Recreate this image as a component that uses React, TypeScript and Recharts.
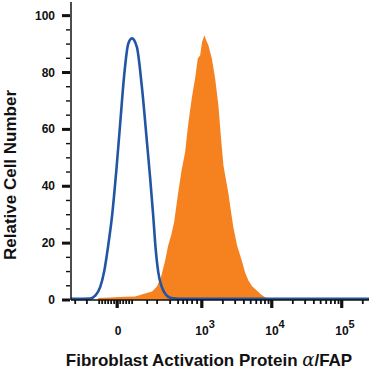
import React from "react";
import { Area, ComposedChart, Label, Line, XAxis, YAxis } from "recharts";

// x is in "decade" units of the biexponential display: 3 = 10^3, 4 = 10^4 ...
const isotypeX = [1.13, 1.404, 1.476, 1.547, 1.604, 1.661, 1.719, 1.776, 1.833, 1.89, 1.947, 2.0, 2.071, 2.143, 2.214, 2.261, 2.304, 2.34, 2.376, 2.429, 2.49, 2.547, 2.69, 5.39];
const isotypeY = [0.4, 0.5, 1.5, 4.5, 10, 19, 30, 45, 62, 79, 90, 92, 89, 75, 56, 43, 30, 18, 10, 4.5, 1.8, 0.8, 0.4, 0.4];

const fapX = [1.519, 1.69, 1.904, 2.047, 2.19, 2.29, 2.361, 2.419, 2.476, 2.519, 2.561, 2.604, 2.661, 2.711, 2.761, 2.809, 2.857, 2.904, 2.943, 2.976, 3.004, 3.037, 3.061, 3.094, 3.143, 3.19, 3.237, 3.271, 3.309, 3.347, 3.38, 3.419, 3.451, 3.504, 3.571, 3.619, 3.666, 3.719, 3.786, 3.847, 3.904, 3.976, 4.119];
const fapY = [0.7, 0.9, 1.1, 1.2, 2.3, 3.0, 4.8, 8.3, 13.9, 19.2, 22.7, 27.3, 37.5, 45.6, 52, 62.6, 71, 78, 85, 86, 90.7, 93.1, 91.4, 89.6, 85, 78, 68.5, 57.9, 47.4, 42, 37.5, 30.8, 25.6, 19.2, 13.9, 9.7, 6.9, 4.8, 3.3, 1.9, 1.0, 0.4, 0.2];

const xMajorTicks = [1.79, 3, 4, 5];
const xMajorLabels = ["0", "3", "4", "5"];
const xMinorTicks = [
  1.19, 1.357,
  1.533, 1.576, 1.619, 1.661, 1.704, 1.747, 1.833, 1.876, 1.919, 1.961, 2.004,
  2.219, 2.361, 2.547, 2.661, 2.733, 2.79, 2.861, 2.933,
  3.301, 3.477, 3.602, 3.699, 3.778, 3.845, 3.903, 3.954,
  4.301, 4.477, 4.602, 4.699, 4.778, 4.845, 4.903, 4.954,
  5.301
];
const yMajorTicks = [0, 20, 40, 60, 80, 100];
const yMinorTicks = [5, 10, 15, 25, 30, 35, 45, 50, 55, 65, 70, 75, 85, 90, 95];

const isotype = isotypeX.map((d, i) => ({ d, v: isotypeY[i] }));
const fap = fapX.map((d, i) => ({ d, v: fapY[i] }));
const xTicks = [...xMajorTicks, ...xMinorTicks].sort((a, b) => a - b);
const yTicks = [...yMajorTicks, ...yMinorTicks].sort((a, b) => a - b);

const FONT = '"Liberation Sans", Arial, sans-serif';

function XTick({ x, y, payload }: any) {
  const i = xMajorTicks.indexOf(payload.value);
  if (i < 0) {
    return <rect x={x - 0.9} y={y} width={1.8} height={4} fill="#111" />;
  }
  const label = xMajorLabels[i];
  return (
    <g>
      <rect x={x - 1.6} y={y} width={3.2} height={8} fill="#111" />
      {label === "0" ? (
        <text x={x + 1} y={y + 35} textAnchor="middle" fontFamily={FONT} fontWeight="bold" fontSize={12} fill="#111">
          0
        </text>
      ) : (
        <text x={x - 6.5} y={y + 35} textAnchor="start" fontFamily={FONT} fontWeight="bold" fontSize={12} fill="#111">
          10
          <tspan dy={-7} fontSize={11}>{label}</tspan>
        </text>
      )}
    </g>
  );
}

function YTick({ x, y, payload }: any) {
  const v = payload.value;
  if (!yMajorTicks.includes(v)) {
    return <rect x={x - 5} y={y - 0.7} width={4} height={1.4} fill="#111" />;
  }
  return (
    <g>
      <rect x={x - 9} y={y - 1.5} width={8} height={3} fill="#111" />
      <text x={x - 16} y={y + 4} textAnchor="end" fontFamily={FONT} fontWeight="bold" fontSize={12} fill="#111">
        {v}
      </text>
    </g>
  );
}

function XTitle(props: any) {
  const vb = props.viewBox || { x: 71, y: 300, width: 298, height: 72 };
  return (
    <text x={vb.x + vb.width / 2 - 11} y={vb.y + 66} textAnchor="middle" fontFamily={FONT} fontWeight="bold" fontSize={17} fill="#111">
      Fibroblast Activation Protein <tspan fontWeight="normal" fontFamily='"DejaVu Serif", serif' fontStyle="italic" fontSize={18}>α</tspan>/FAP
    </text>
  );
}

function YTitle(props: any) {
  const vb = props.viewBox || { x: 0, y: 2, width: 71, height: 298 };
  const cx = vb.x + 15.5;
  const cy = vb.y + vb.height / 2 + 24;
  return (
    <text x={cx} y={cy} transform={`rotate(-90, ${cx}, ${cy})`} textAnchor="middle" fontFamily={FONT} fontWeight="bold" fontSize={17} fill="#111">
      Relative Cell Number
    </text>
  );
}

export default function App() {
  return (
    <div style={{ position: "absolute", left: 0, top: 0, width: 371, height: 372, background: "#fff" }}>
      <ComposedChart width={371} height={372} margin={{ top: 2, right: 2, left: 0, bottom: 0 }}>
        <XAxis
          xAxisId="main"
          dataKey="d"
          type="number"
          domain={[1.13, 5.39]}
          ticks={xTicks}
          interval={0}
          allowDataOverflow
          height={72}
          tickSize={0}
          tickMargin={0}
          tickLine={false}
          tick={<XTick />}
          axisLine={{ stroke: "#111", strokeWidth: 1.5 }}
        >
          <Label content={<XTitle />} />
        </XAxis>
        <XAxis
          xAxisId="top"
          orientation="top"
          dataKey="d"
          type="number"
          domain={[1.13, 5.39]}
          height={0}
          tick={false}
          tickLine={false}
          axisLine={{ stroke: "#555", strokeWidth: 1.5 }}
        />
        <YAxis
          yAxisId="main"
          type="number"
          domain={[0, 104.8]}
          ticks={yTicks}
          interval={0}
          allowDataOverflow
          width={71}
          tickSize={0}
          tickMargin={0}
          tickLine={false}
          tick={<YTick />}
          axisLine={{ stroke: "#111", strokeWidth: 1.5 }}
        >
          <Label content={<YTitle />} />
        </YAxis>
        <YAxis
          yAxisId="right"
          orientation="right"
          type="number"
          domain={[0, 104.8]}
          width={0}
          tick={false}
          tickLine={false}
          axisLine={{ stroke: "#666", strokeWidth: 2 }}
        />
        <Area
          xAxisId="main"
          yAxisId="main"
          data={fap}
          dataKey="v"
          type="linear"
          stroke="none"
          fill="#f5821f"
          fillOpacity={1}
          baseValue={0}
          isAnimationActive={false}
        />
        <Line
          xAxisId="main"
          yAxisId="main"
          data={isotype}
          dataKey="v"
          type="monotone"
          stroke="#2255a4"
          strokeWidth={2.6}
          dot={false}
          isAnimationActive={false}
        />
      </ComposedChart>
    </div>
  );
}
